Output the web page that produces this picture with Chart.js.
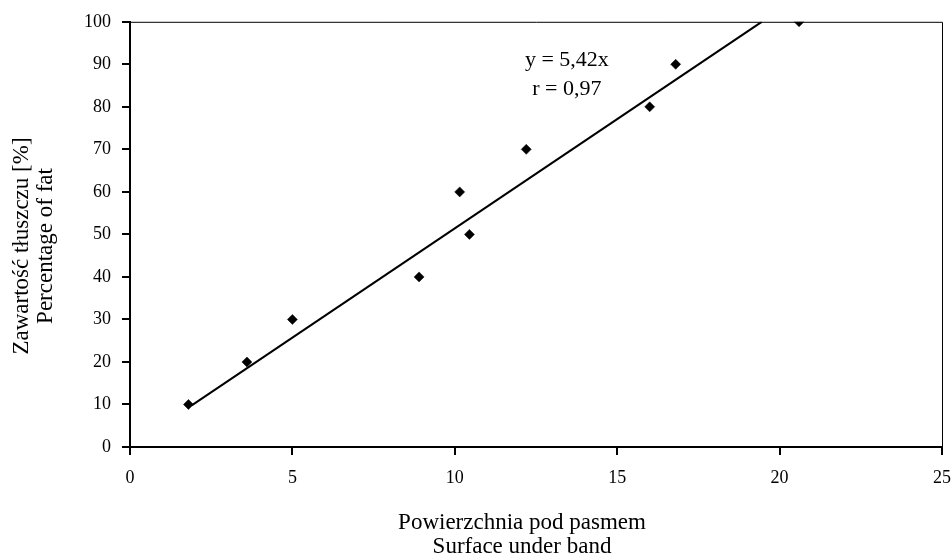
<!DOCTYPE html>
<html>
<head>
<meta charset="utf-8">
<script src="https://cdn.jsdelivr.net/npm/chart.js@4/dist/chart.umd.min.js"></script>
<style>
  html, body { margin: 0; padding: 0; background: #fff; }
  #wrap { width: 951px; height: 560px; }
</style>
</head>
<body>
<div id="wrap"><canvas id="chart-fat"></canvas></div>
<script>
/* ── data ─────────────────────────────────────────── */
const surfaceX = [1.8, 3.6, 5.0, 8.9, 10.15, 10.45, 12.2, 16.0, 16.8, 20.6];
const fatY     = [10, 20, 30, 40, 60, 50, 70, 80, 90, 100];
const fitX     = [1.9, 19.45];
const fitY     = [9.8, 100];
const eqLines  = ['y = 5,42x', 'r = 0,97'];
const xTitle   = ['Powierzchnia pod pasmem', 'Surface under band'];
const yTitle   = ['Zawartość tłuszczu [%]', 'Percentage of fat'];

const SERIF = "'Liberation Serif', 'Times New Roman', serif";

// ramka (górna/prawa), tytuły osi i równanie regresji
const extras = {
  id: 'extras',
  afterDraw(chart) {
    const { ctx, chartArea: a, scales } = chart;
    ctx.save();
    ctx.strokeStyle = '#000';
    ctx.lineWidth = 1;
    ctx.beginPath();
    ctx.moveTo(a.left, a.top + 0.5);
    ctx.lineTo(a.right + 0.5, a.top + 0.5);
    ctx.lineTo(a.right + 0.5, a.bottom);
    ctx.stroke();

    ctx.fillStyle = '#000';
    ctx.font = '22px ' + SERIF;
    ctx.textAlign = 'center';
    ctx.textBaseline = 'alphabetic';
    const x = scales.x.getPixelForValue(13.45);
    ctx.fillText(eqLines[0], x, scales.y.getPixelForValue(89.5));
    ctx.fillText(eqLines[1], x, scales.y.getPixelForValue(82.9));

    // tytuł osi X
    ctx.font = '23px ' + SERIF;
    ctx.fillText(xTitle[0], 522, 529);
    ctx.fillText(xTitle[1], 522, 553);

    // tytuł osi Y (obrócony)
    ctx.textBaseline = 'middle';
    yTitle.forEach((t, i) => {
      ctx.save();
      ctx.translate(22 + i * 24, 246);
      ctx.rotate(-Math.PI / 2);
      ctx.fillText(t, 0, 0);
      ctx.restore();
    });
    ctx.restore();
  }
};

new Chart(document.getElementById('chart-fat'), {
  type: 'scatter',
  data: {
    datasets: [
      {
        label: 'pomiary',
        data: surfaceX.map((v, i) => ({ x: v, y: fatY[i] })),
        pointStyle: 'rectRot',
        pointRadius: 5,
        backgroundColor: '#000',
        borderColor: '#000',
        borderWidth: 0.5,
      },
      {
        label: 'regresja',
        data: fitX.map((v, i) => ({ x: v, y: fitY[i] })),
        showLine: true,
        pointRadius: 0,
        borderColor: '#000',
        borderWidth: 2,
      }
    ]
  },
  options: {
    responsive: true,
    maintainAspectRatio: false,
    animation: false,
    layout: { padding: { top: 20, right: 9, left: 0, bottom: 0 } },
    plugins: { legend: { display: false }, tooltip: { enabled: false } },
    scales: {
      x: {
        type: 'linear', min: 0, max: 25,
        afterFit: s => { s.height = 113; s.paddingLeft = 0; s.paddingRight = 0; },
        border: { display: true, color: '#000', width: 2 },
        grid: { drawOnChartArea: false, color: '#000', lineWidth: 2, tickLength: 8 },
        ticks: { stepSize: 5, color: '#000', padding: 12, maxRotation: 0,
                 font: { family: SERIF, size: 18 } },
        title: { display: false }
      },
      y: {
        type: 'linear', min: 0, max: 100,
        afterFit: s => { s.width = 130; },
        border: { display: true, color: '#000', width: 2 },
        grid: { drawOnChartArea: false, color: '#000', lineWidth: 2, tickLength: 8 },
        ticks: { stepSize: 10, color: '#000', padding: 11,
                 font: { family: SERIF, size: 18 } },
        title: { display: false }
      }
    }
  },
  plugins: [extras]
});
</script>
</body>
</html>
